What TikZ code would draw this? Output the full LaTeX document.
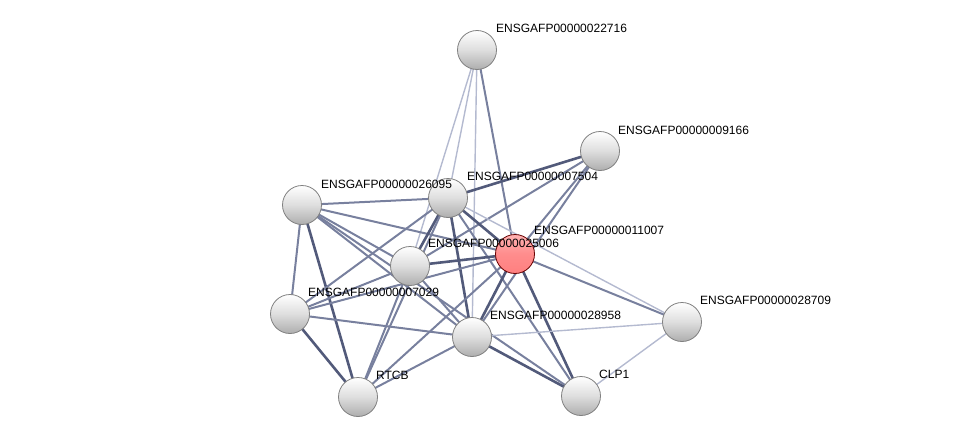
\documentclass[tikz,border=0pt]{standalone}
\usepackage{fontspec}
\setmainfont{Liberation Sans}
\usetikzlibrary{backgrounds}

\definecolor{edgedark}{RGB}{82,90,122}
\definecolor{edgemid}{RGB}{120,128,158}
\definecolor{edgelight}{RGB}{180,186,208}

\tikzset{
  prot/.style={circle, minimum size=39pt, inner sep=0pt, draw=black!50, line width=0.8pt,
    top color=white, bottom color=black!32, middle color=black!13},
  query/.style={prot, draw=red!40!black, top color=red!30, bottom color=red!50, middle color=red!45},
  lab/.style={anchor=west, inner sep=0pt, font=\fontsize{12}{14}\selectfont},
  elight/.style={draw=edgelight, line width=1.4pt},
  emid/.style={draw=edgemid, line width=2pt},
  edark/.style={draw=edgedark, line width=2.6pt}
}

\begin{document}
\begin{tikzpicture}[x=1pt, y=-1pt]

  \useasboundingbox (0,0) rectangle (976,442);

  % proteins
  \node[prot] (p22716) at (477,50) {};
  \node[prot] (p9166) at (600,151) {};
  \node[prot] (p26095) at (302,205) {};
  \node[prot] (p7504) at (448,198) {};
  \node[query] (p11007) at (515,254) {};
  \node[prot] (p25006) at (410,266) {};
  \node[prot] (p7029) at (290,314) {};
  \node[prot] (p28958) at (472,337) {};
  \node[prot] (p28709) at (682,322) {};
  \node[prot] (rtcb) at (358,397) {};
  \node[prot] (clp1) at (581,396) {};

  % names
  \node[lab] (l22716) at (496,28) {ENSGAFP00000022716};
  \node[lab] (l9166) at (618,130) {ENSGAFP00000009166};
  \node[lab] (l26095) at (321,184) {ENSGAFP00000026095};
  \node[lab] (l7504) at (467,176) {ENSGAFP00000007504};
  \node[lab] (l11007) at (534,230) {ENSGAFP00000011007};
  \node[lab] (l25006) at (428,243) {ENSGAFP00000025006};
  \node[lab] (l7029) at (308,292) {ENSGAFP00000007029};
  \node[lab] (l28958) at (490,315) {ENSGAFP00000028958};
  \node[lab] (l28709) at (700,300) {ENSGAFP00000028709};
  \node[lab] (lrtcb) at (376,375) {RTCB};
  \node[lab] (lclp1) at (599,374) {CLP1};

  % interactions
  \begin{scope}[on background layer]
    \draw[elight] (p22716.center) -- (p7504.center);
    \draw[elight] (p22716.center) -- (p25006.center);
    \draw[elight] (p22716.center) -- (p28958.center);
    \draw[emid] (p22716.center) -- (p11007.center);

    \draw[edark] (p9166.center) -- (p7504.center);
    \draw[emid] (p9166.center) -- (p25006.center);
    \draw[emid] (p9166.center) -- (p11007.center);
    \draw[emid] (p9166.center) -- (p28958.center);

    \draw[emid] (p26095.center) -- (p7504.center);
    \draw[emid] (p26095.center) -- (p11007.center);
    \draw[emid] (p26095.center) -- (p25006.center);
    \draw[emid] (p26095.center) -- (p28958.center);
    \draw[emid] (p26095.center) -- (clp1.center);
    \draw[emid] (p26095.center) -- (p7029.center);
    \draw[edark] (p26095.center) -- (rtcb.center);

    \draw[edark] (p7504.center) -- (p11007.center);
    \draw[edark] (p7504.center) -- (p25006.center);
    \draw[edark] (p7504.center) -- (p28958.center);
    \draw[emid] (p7504.center) -- (p7029.center);
    \draw[emid] (p7504.center) -- (rtcb.center);
    \draw[emid] (p7504.center) -- (clp1.center);
    \draw[elight] (p7504.center) -- (p28709.center);

    \draw[edark] (p11007.center) -- (p25006.center);
    \draw[edark] (p11007.center) -- (p28958.center);
    \draw[edark] (p11007.center) -- (clp1.center);
    \draw[emid] (p11007.center) -- (p7029.center);
    \draw[emid] (p11007.center) -- (rtcb.center);
    \draw[emid] (p11007.center) -- (p28709.center);

    \draw[emid] (p25006.center) -- (p7029.center);
    \draw[emid] (p25006.center) -- (p28958.center);
    \draw[emid] (p25006.center) -- (rtcb.center);

    \draw[edark] (p7029.center) -- (rtcb.center);
    \draw[emid] (p7029.center) -- (p28958.center);

    \draw[emid] (p28958.center) -- (rtcb.center);
    \draw[edark] (p28958.center) -- (clp1.center);
    \draw[elight] (p28958.center) -- (p28709.center);

    \draw[elight] (p28709.center) -- (clp1.center);
  \end{scope}

\end{tikzpicture}
\end{document}
